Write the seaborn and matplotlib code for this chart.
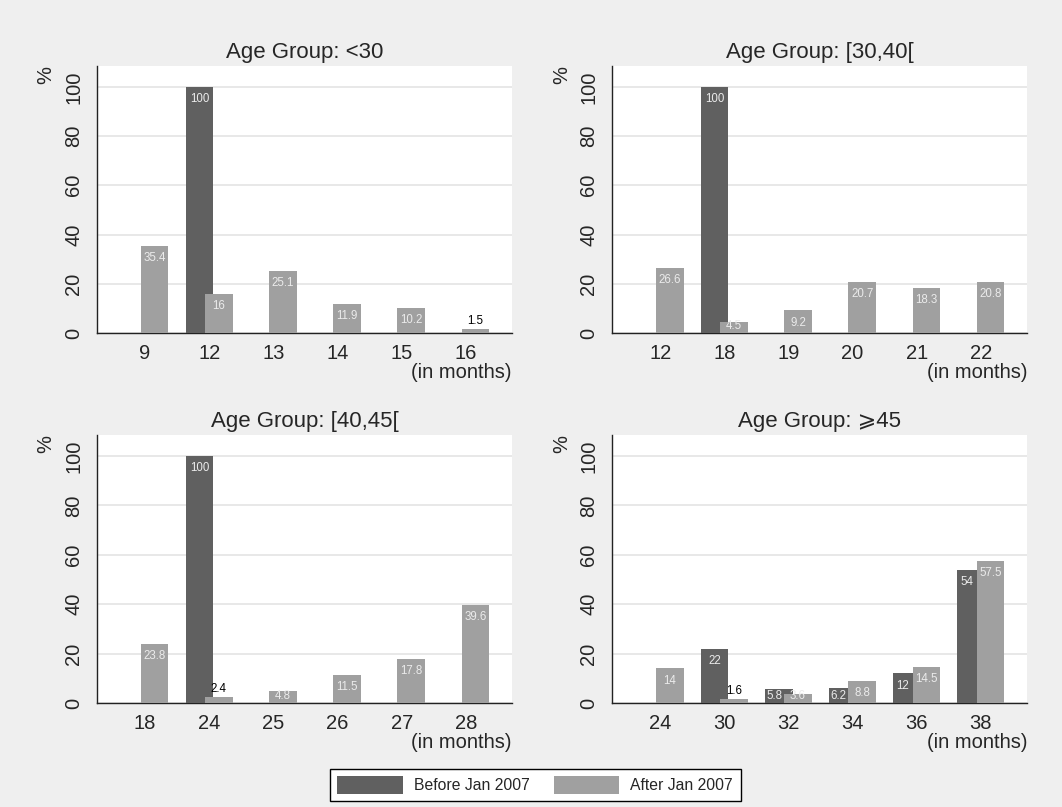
import pandas as pd
import matplotlib.pyplot as plt
from matplotlib.patches import Patch
import seaborn as sns

# Data (percent of contracts by duration, in months)
periods = ["Before Jan 2007", "After Jan 2007"]

titles = ["Age Group: <30", "Age Group: [30,40[", "Age Group: [40,45[", "Age Group: \u2a7e45"]

months_lt30 = ["9", "12", "13", "14", "15", "16"]
before_lt30 = [None, 100, None, None, None, None]
after_lt30 = [35.4, 16, 25.1, 11.9, 10.2, 1.5]

months_30_40 = ["12", "18", "19", "20", "21", "22"]
before_30_40 = [None, 100, None, None, None, None]
after_30_40 = [26.6, 4.5, 9.2, 20.7, 18.3, 20.8]

months_40_45 = ["18", "24", "25", "26", "27", "28"]
before_40_45 = [None, 100, None, None, None, None]
after_40_45 = [23.8, 2.4, 4.8, 11.5, 17.8, 39.6]

months_ge45 = ["24", "30", "32", "34", "36", "38"]
before_ge45 = [None, 22, 5.8, 6.2, 12, 54]
after_ge45 = [14, 1.6, 3.6, 8.8, 14.5, 57.5]

panels = [
    (months_lt30, before_lt30, after_lt30),
    (months_30_40, before_30_40, after_30_40),
    (months_40_45, before_40_45, after_40_45),
    (months_ge45, before_ge45, after_ge45),
]

dark, light = "#606060", "#a0a0a0"
bg = "#efefef"
bar_w = 0.43

sns.set_style("white")
plt.rcParams["font.family"] = ["Liberation Sans", "DejaVu Sans"]

fig = plt.figure(figsize=(10.62, 8.07), dpi=100, facecolor=bg)

positions = [
    [0.0913, 0.5874, 0.3908, 0.3309],
    [0.5763, 0.5874, 0.3908, 0.3309],
    [0.0913, 0.1289, 0.3908, 0.3321],
    [0.5763, 0.1289, 0.3908, 0.3321],
]

for pos, title, (months, before, after) in zip(positions, titles, panels):
    ax = fig.add_axes(pos)
    rows = []
    for m, b, a in zip(months, before, after):
        if b is not None:
            rows.append({"month": m, "period": periods[0], "pct": b})
        if a is not None:
            rows.append({"month": m, "period": periods[1], "pct": a})
    df = pd.DataFrame(rows)

    sns.barplot(data=df, x="month", y="pct", hue="period", order=months,
                hue_order=periods, palette=[dark, light], width=0.6,
                errorbar=None, saturation=1, linewidth=0, legend=False,
                ax=ax, zorder=3)

    # stata-style overlapping bars: widen each bar around its own centre
    bars = []
    for p in ax.patches:
        cx = p.get_x() + p.get_width() / 2
        shift = (bar_w - p.get_width()) / 2
        p.set_width(bar_w)
        p.set_x(cx - bar_w / 2)
        bars.append((cx, p.get_height(), shift))

    for cx, h, shift in bars:
        if h != h or h == 0:
            continue
        group = round(cx)
        is_dark = cx < group
        lx = cx
        if is_dark:
            # label sits on the visible part when the light bar next to it is tall
            neigh = [hh for c, hh, _ in bars if c > group and round(c) == group]
            if neigh and neigh[0] > h - 6:
                lx = cx - shift
        if h < 3:
            ax.annotate(f"{h:g}", (lx, h), xytext=(0, 1.5), textcoords="offset points",
                        ha="center", va="bottom", fontsize=8.3, color="black", zorder=5)
        elif h < 6.5:
            # short bar: keep the label inside, resting on the baseline
            ax.annotate(f"{h:g}", (lx, 0), xytext=(0, 0.8), textcoords="offset points",
                        ha="center", va="bottom", fontsize=8.3, color="#ebebeb", zorder=5)
        else:
            ax.annotate(f"{h:g}", (lx, h), xytext=(0, -4.5), textcoords="offset points",
                        ha="center", va="top", fontsize=8.3, color="#ebebeb", zorder=5)

    ax.set_xlim(-0.75, 5.72)
    ax.set_ylim(0, 108.5)
    ax.set_yticks([0, 20, 40, 60, 80, 100])
    ax.set_facecolor("white")
    ax.grid(axis="y", color="#e6e6e6", linewidth=1.3, zorder=0)
    ax.set_axisbelow(True)
    for s in ["top", "right"]:
        ax.spines[s].set_visible(False)
    for s in ["left", "bottom"]:
        ax.spines[s].set_color("#222222")
        ax.spines[s].set_linewidth(1.0)
    ax.tick_params(axis="y", length=6, width=1, color="#222222", labelsize=14.5, pad=4)
    ax.tick_params(axis="x", length=0, labelsize=14.5, pad=8)
    for lab in ax.get_yticklabels():
        lab.set_rotation(90)
        lab.set_va("center")
    ax.set_title(title, fontsize=16, pad=6)
    ax.set_xlabel("(in months)", loc="right", fontsize=14.5, labelpad=0)
    ax.set_ylabel("%", loc="top", fontsize=14.5, labelpad=6)

handles = [Patch(facecolor=dark, edgecolor="none", label=periods[0]),
           Patch(facecolor=light, edgecolor="none", label=periods[1])]
fig.legend(handles=handles, loc="center", bbox_to_anchor=(0.504, 0.0273), ncol=2,
           fontsize=11.3, frameon=True, fancybox=False, edgecolor="black",
           facecolor="white", framealpha=1, handlelength=4.2, handleheight=1.3,
           handletextpad=0.7, columnspacing=1.5, borderpad=0.5)

fig.savefig("out.png", dpi=100, facecolor=bg)
